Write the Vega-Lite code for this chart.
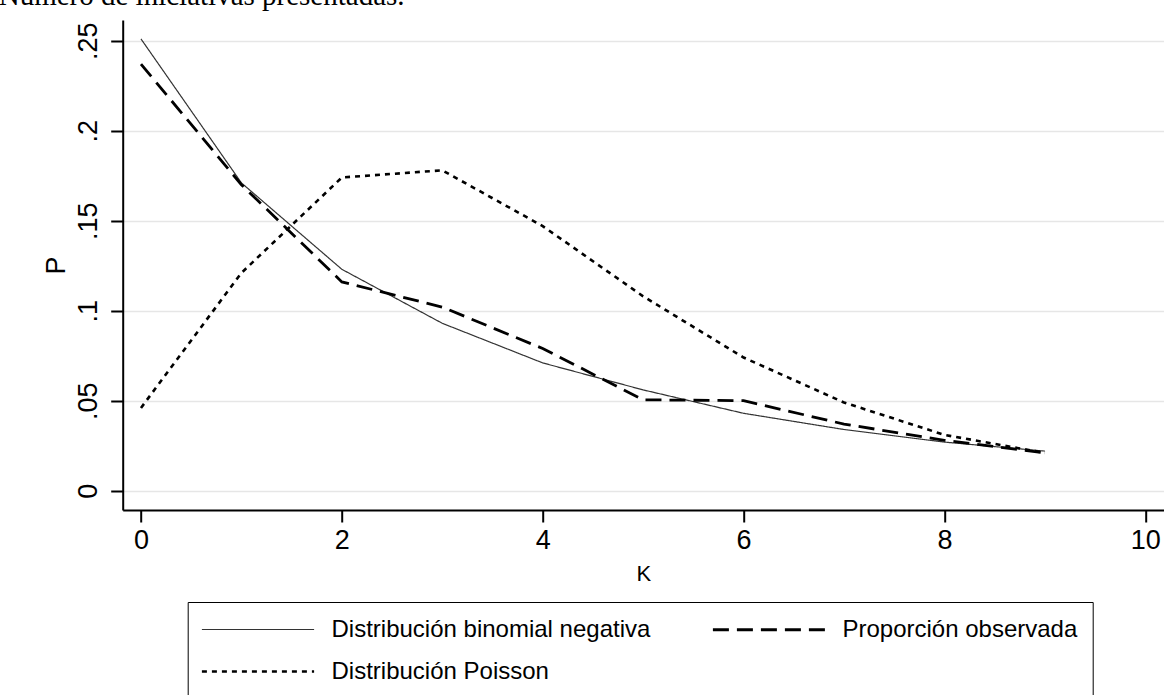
{
  "$schema": "https://vega.github.io/schema/vega-lite/v6.json",
  "autosize": {"type": "none"},
  "width": 1041.3,
  "height": 490,
  "padding": {"left": 122.7, "top": 20, "right": 0, "bottom": 185},
  "background": "white",
  "title": {
    "text": "Número de iniciativas presentadas.",
    "anchor": "start",
    "frame": "group",
    "orient": "top",
    "font": "Liberation Serif",
    "fontSize": 29,
    "fontWeight": "normal",
    "color": "black",
    "baseline": "bottom",
    "offset": 0,
    "dy": 20,
    "dx": -124
  },
  "data": {
    "values": [
      {"K": 0, "P": 0.251, "serie": "Distribución binomial negativa"},
      {"K": 1, "P": 0.171, "serie": "Distribución binomial negativa"},
      {"K": 2, "P": 0.123, "serie": "Distribución binomial negativa"},
      {"K": 3, "P": 0.093, "serie": "Distribución binomial negativa"},
      {"K": 4, "P": 0.071, "serie": "Distribución binomial negativa"},
      {"K": 5, "P": 0.056, "serie": "Distribución binomial negativa"},
      {"K": 6, "P": 0.043, "serie": "Distribución binomial negativa"},
      {"K": 7, "P": 0.034, "serie": "Distribución binomial negativa"},
      {"K": 8, "P": 0.027, "serie": "Distribución binomial negativa"},
      {"K": 9, "P": 0.022, "serie": "Distribución binomial negativa"},
      {"K": 0, "P": 0.237, "serie": "Proporción observada"},
      {"K": 1, "P": 0.170, "serie": "Proporción observada"},
      {"K": 2, "P": 0.116, "serie": "Proporción observada"},
      {"K": 3, "P": 0.102, "serie": "Proporción observada"},
      {"K": 4, "P": 0.079, "serie": "Proporción observada"},
      {"K": 5, "P": 0.0505, "serie": "Proporción observada"},
      {"K": 6, "P": 0.050, "serie": "Proporción observada"},
      {"K": 7, "P": 0.037, "serie": "Proporción observada"},
      {"K": 8, "P": 0.028, "serie": "Proporción observada"},
      {"K": 9, "P": 0.021, "serie": "Proporción observada"},
      {"K": 0, "P": 0.046, "serie": "Distribución Poisson"},
      {"K": 1, "P": 0.121, "serie": "Distribución Poisson"},
      {"K": 2, "P": 0.174, "serie": "Distribución Poisson"},
      {"K": 3, "P": 0.178, "serie": "Distribución Poisson"},
      {"K": 4, "P": 0.147, "serie": "Distribución Poisson"},
      {"K": 5, "P": 0.108, "serie": "Distribución Poisson"},
      {"K": 6, "P": 0.074, "serie": "Distribución Poisson"},
      {"K": 7, "P": 0.049, "serie": "Distribución Poisson"},
      {"K": 8, "P": 0.031, "serie": "Distribución Poisson"},
      {"K": 9, "P": 0.021, "serie": "Distribución Poisson"}
    ]
  },
  "mark": {"type": "line", "clip": true},
  "encoding": {
    "x": {
      "field": "K",
      "type": "quantitative",
      "scale": {"domain": [-0.182, 10.186], "nice": false, "zero": false},
      "axis": {
        "values": [0, 2, 4, 6, 8, 10],
        "title": "K",
        "titleFontSize": 22,
        "titlePadding": 10,
        "labelFontSize": 27,
        "labelPadding": 5,
        "grid": false
      }
    },
    "y": {
      "field": "P",
      "type": "quantitative",
      "scale": {"domain": [-0.01072, 0.2615], "nice": false, "zero": false},
      "axis": {
        "values": [0, 0.05, 0.1, 0.15, 0.2, 0.25],
        "title": "P",
        "titleFontSize": 27,
        "titlePadding": 4,
        "labelFontSize": 27,
        "labelAngle": -90,
        "labelPadding": 8,
        "labelExpr": "datum.value == 0 ? '0' : slice(format(datum.value, '.2~f'), 1)",
        "grid": true,
        "gridColor": "#e6e6e6",
        "gridWidth": 1.5
      }
    },
    "color": {
      "field": "serie",
      "type": "nominal",
      "sort": ["Distribución binomial negativa", "Distribución Poisson", "Proporción observada"],
      "scale": {
        "domain": ["Distribución binomial negativa", "Distribución Poisson", "Proporción observada"],
        "range": ["#333333", "#000000", "#000000"]
      },
      "legend": {"title": null}
    },
    "strokeDash": {
      "field": "serie",
      "type": "nominal",
      "sort": ["Distribución binomial negativa", "Distribución Poisson", "Proporción observada"],
      "scale": {
        "domain": ["Distribución binomial negativa", "Distribución Poisson", "Proporción observada"],
        "range": [[1, 0], [5, 5], [16, 8]]
      },
      "legend": {"title": null}
    },
    "strokeWidth": {
      "field": "serie",
      "type": "nominal",
      "sort": ["Distribución binomial negativa", "Distribución Poisson", "Proporción observada"],
      "scale": {
        "type": "ordinal",
        "domain": ["Distribución binomial negativa", "Distribución Poisson", "Proporción observada"],
        "range": [1.2, 2.6, 2.8]
      },
      "legend": {"title": null}
    }
  },
  "config": {
    "view": {"stroke": null},
    "font": "Liberation Sans",
    "axis": {
      "labelFont": "Liberation Sans",
      "titleFont": "Liberation Sans",
      "labelColor": "black",
      "titleColor": "black",
      "titleFontWeight": "normal",
      "domainColor": "black",
      "domainWidth": 2,
      "tickColor": "black",
      "tickWidth": 2,
      "tickSize": 12
    },
    "legend": {
      "orient": "none",
      "legendX": 65,
      "legendY": 582,
      "columns": 2,
      "symbolType": "M-5.1,0H5.1",
      "symbolSize": 484,
      "symbolOffset": 42.8,
      "labelFont": "Liberation Sans",
      "labelFontSize": 24,
      "labelColor": "black",
      "labelOffset": 61,
      "labelLimit": 600,
      "strokeColor": "black",
      "padding": 15,
      "rowPadding": 17,
      "columnPadding": 56
    }
  }
}
